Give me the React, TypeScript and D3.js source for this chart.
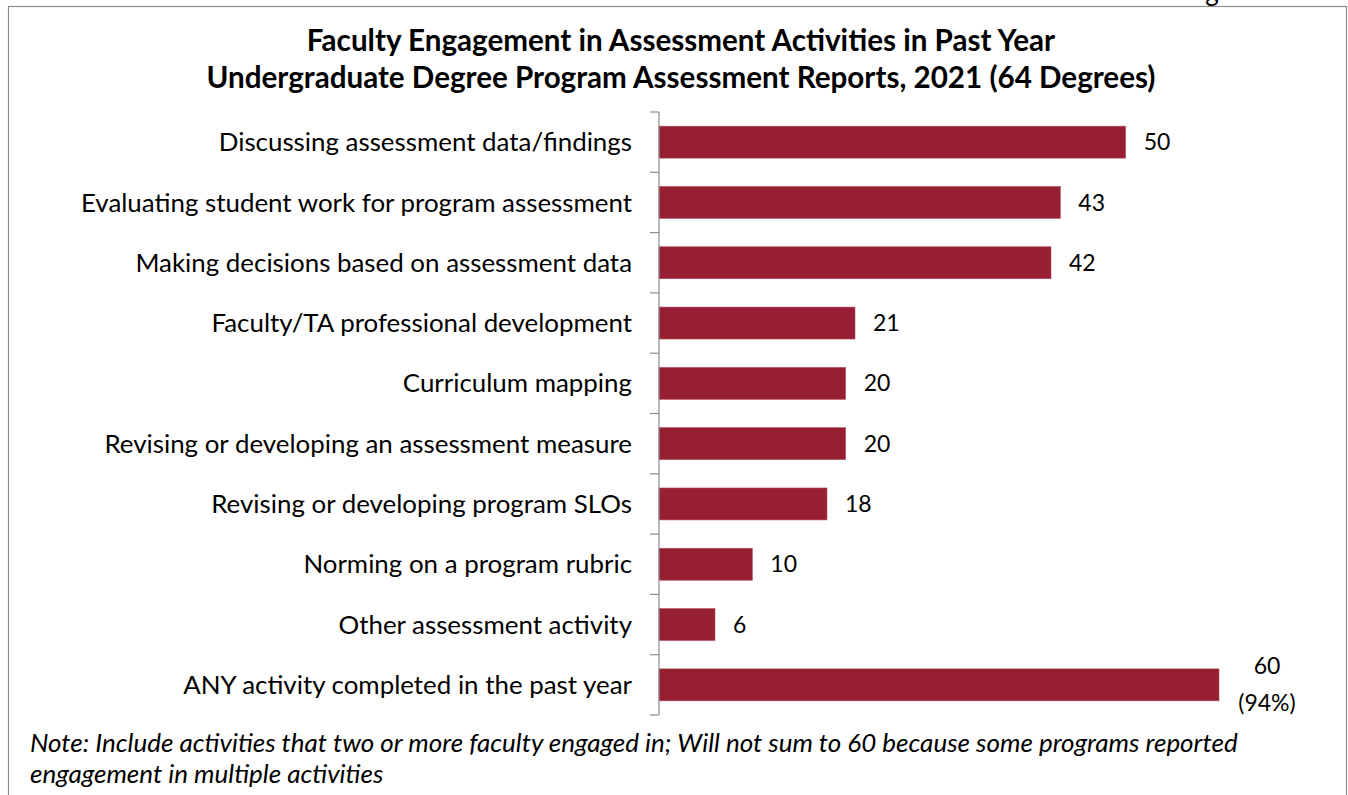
import React from "react";
import * as d3 from "d3";

const categories = [
  "Discussing assessment data/findings",
  "Evaluating student work for program assessment",
  "Making decisions based on assessment data",
  "Faculty/TA professional development",
  "Curriculum mapping",
  "Revising or developing an assessment measure",
  "Revising or developing program SLOs",
  "Norming on a program rubric",
  "Other assessment activity",
  "ANY activity completed in the past year",
];
const values = [50, 43, 42, 21, 20, 20, 18, 10, 6, 60];
const valueLabels = [["50"], ["43"], ["42"], ["21"], ["20"], ["20"], ["18"], ["10"], ["6"], ["60", "(94%)"]];
const titleLines = [
  "Faculty Engagement in Assessment Activities in Past Year",
  "Undergraduate Degree Program Assessment Reports, 2021 (64 Degrees)",
];
const noteLines = [
  "Note: Include activities that two or more faculty engaged in; Will not sum to 60 because some programs reported",
  "engagement in multiple activities",
];

const W = 1348;
const H = 795;
const FONT = "Lato, 'Open Sans', sans-serif";

export default function App() {
  const x = d3.scaleLinear().domain([0, 60]).range([659, 1219]);
  const y = d3.scaleBand<string>().domain(categories).range([112, 715]).paddingInner(0.47).paddingOuter(0.235);
  const step = y.step();
  const tickYs = d3.range(categories.length + 1).map((i) => 112 + i * step);
  const barColor = "#961f33";
  return (
    <svg width={W} height={H} style={{ position: "absolute", left: 0, top: 0, background: "#fff" }} fontFamily={FONT}>
      <rect x={8.5} y={6.5} width={1338} height={H + 20} fill="none" stroke="#8c8c8c" strokeWidth={1.2} />
      <text x={1212} y={1} fontSize={26} textAnchor="middle" fill="#000">g</text>
      {titleLines.map((t, i) => (
        <text key={i} x={681} y={51 + i * 37} fontSize={29.6} fontWeight="bold" textAnchor="middle" fill="#000">
          {t}
        </text>
      ))}
      {categories.map((c, i) => (
        <g key={c}>
          <rect x={x(0)} y={y(c)} width={x(values[i]) - x(0)} height={y.bandwidth()} fill={barColor} stroke="#b05060" strokeWidth={0.6} />
          <text x={632} y={(y(c) as number) + y.bandwidth() / 2} dy="0.35em" fontSize={25.9} textAnchor="end" fill="#000">
            {c}
          </text>
          {valueLabels[i].length === 1 ? (
            <text x={x(values[i]) + 18} y={(y(c) as number) + y.bandwidth() / 2} dy="0.35em" fontSize={23} fill="#000">
              {valueLabels[i][0]}
            </text>
          ) : (
            valueLabels[i].map((l, j) => (
              <text key={j} x={x(values[i]) + 48} y={(y(c) as number) + y.bandwidth() / 2 + (j - 0.5) * 37} dy="0.35em" fontSize={23} textAnchor="middle" fill="#000">
                {l}
              </text>
            ))
          )}
        </g>
      ))}
      <line x1={659} x2={659} y1={112} y2={715} stroke="#8c8c8c" strokeWidth={1.2} />
      {tickYs.map((ty, i) => (
        <line key={i} x1={650} x2={659} y1={ty} y2={ty} stroke="#8c8c8c" strokeWidth={1.2} />
      ))}
      {noteLines.map((t, i) => (
        <text key={i} x={30} y={752 + i * 31} fontSize={26} fontStyle="italic" fill="#000">
          {t}
        </text>
      ))}
    </svg>
  );
}
